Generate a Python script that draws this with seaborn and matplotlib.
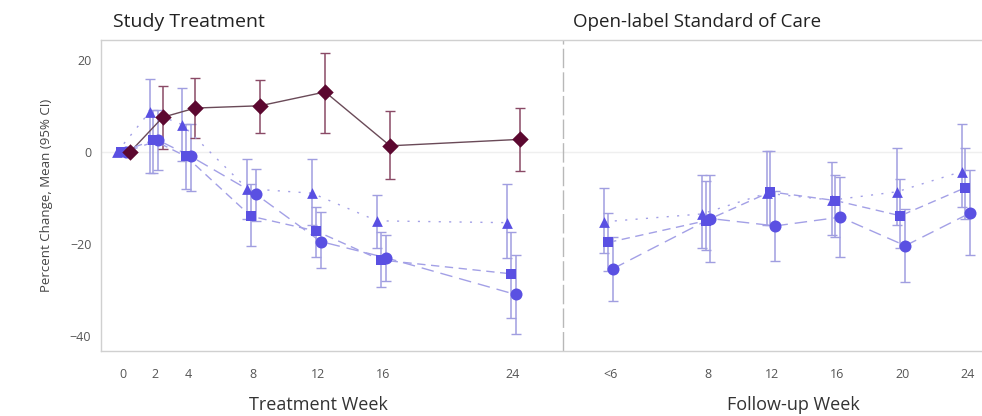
import numpy as np
import pandas as pd
import matplotlib
matplotlib.use("Agg")
import matplotlib.pyplot as plt
import seaborn as sns

# ── Data ─────────────────────────────────────────────────────────────────────
treat_weeks = [0, 2, 4, 8, 12, 16, 24]
fu_labels   = ['<6', '8', '12', '16', '20', '24']
fu_pos      = [30, 36, 40, 44, 48, 52]   # follow-up weeks placed after the treatment block

# diamond arm (study treatment only)
dia_mean = [0, 7.5, 9.5, 10.0, 13.0, 1.3, 2.7]
dia_lo   = [np.nan, 0.5, 3.0, 4.1, 4.0, -6.0, -4.2]
dia_hi   = [np.nan, 14.3, 16.0, 15.7, 21.5, 8.8, 9.6]

# triangle arm
tri_mean    = [0, 8.7, 5.9, -8.0, -9.0, -15.0, -15.4]
tri_lo      = [np.nan, -4.6, -2.0, -14.5, -16.0, -21.0, -23.0]
tri_hi      = [np.nan, 15.9, 13.9, -1.6, -1.5, -9.4, -7.0]
tri_fu_mean = [-15.2, -13.5, -9.0, -10.5, -8.7, -4.3]
tri_fu_lo   = [-22.0, -21.0, -16.0, -18.0, -16.0, -12.0]
tri_fu_hi   = [-7.9, -5.0, 0.2, -2.2, 0.9, 6.1]

# square arm
sq_mean    = [0, 2.5, -1.0, -14.0, -17.2, -23.5, -26.5]
sq_lo      = [np.nan, -4.5, -8.0, -20.5, -22.8, -29.3, -36.0]
sq_hi      = [np.nan, 9.0, 6.0, -7.0, -12.0, -17.4, -17.4]
sq_fu_mean = [-19.7, -15.0, -8.7, -10.6, -13.9, -7.8]
sq_fu_lo   = [-26.0, -21.3, -16.0, -18.5, -21.0, -14.5]
sq_fu_hi   = [-13.2, -6.3, 0.2, -5.0, -6.0, 0.9]

# circle arm
ci_mean    = [0, 2.5, -1.0, -9.2, -19.5, -23.0, -31.0]
ci_lo      = [np.nan, -4.0, -8.5, -15.0, -25.3, -28.0, -39.6]
ci_hi      = [np.nan, 9.0, 6.0, -3.7, -13.0, -18.0, -22.4]
ci_fu_mean = [-25.4, -14.5, -16.1, -14.2, -20.4, -13.3]
ci_fu_lo   = [-32.4, -23.9, -23.7, -22.8, -28.2, -22.4]
ci_fu_hi   = [-18.5, -5.0, -8.5, -5.5, -12.5, -4.0]

# ── Build long table ─────────────────────────────────────────────────────────
rows = []
def add(arm, period, xs, m, lo, hi):
    for x, a, b, c in zip(xs, m, lo, hi):
        rows.append(dict(arm=arm, period=period, x=x, mean=a, lo=b, hi=c))

add('dia', 'treat', treat_weeks, dia_mean, dia_lo, dia_hi)
add('tri', 'treat', treat_weeks, tri_mean, tri_lo, tri_hi)
add('tri', 'fu', fu_pos, tri_fu_mean, tri_fu_lo, tri_fu_hi)
add('sq', 'treat', treat_weeks, sq_mean, sq_lo, sq_hi)
add('sq', 'fu', fu_pos, sq_fu_mean, sq_fu_lo, sq_fu_hi)
add('ci', 'treat', treat_weeks, ci_mean, ci_lo, ci_hi)
add('ci', 'fu', fu_pos, ci_fu_mean, ci_fu_lo, ci_fu_hi)
df = pd.DataFrame(rows)

# small horizontal jitter so the arms don't sit on top of each other
offset = {'tri': -0.35, 'sq': -0.12, 'ci': 0.18, 'dia': 0.45}
df['pos'] = df['x'] + df['arm'].map(offset)
df['unit'] = df['arm'] + '_' + df['period']

BLUE   = '#5a50e2'
LAV    = '#a3a0e6'
MAROON = '#5c0830'

line_pal   = {'dia': '#6a4a58', 'tri': LAV, 'sq': LAV, 'ci': LAV}
marker_pal = {'dia': MAROON, 'tri': BLUE, 'sq': BLUE, 'ci': BLUE}
ebar_col   = {'dia': '#8a4a66', 'tri': '#a09ee0', 'sq': '#a09ee0', 'ci': '#a09ee0'}
markers    = {'dia': 'D', 'tri': '^', 'sq': 's', 'ci': 'o'}
dashes     = {'dia': '', 'tri': (1.5, 6), 'sq': (6, 4), 'ci': (9, 5)}
msize      = {'dia': 70, 'tri': 60, 'sq': 55, 'ci': 75}

# ── Plot ─────────────────────────────────────────────────────────────────────
sns.set_style('white')
plt.rcParams['font.family'] = ['Open Sans', 'DejaVu Sans']

fig = plt.figure(figsize=(9.82, 4.16), dpi=100)
ax = fig.add_axes([0.1029, 0.156, 0.897, 0.748])

ax.axhline(0, color='#efefef', lw=1, zorder=0)
ax.axvline(27.1, color='#b8b8b8', lw=1, dashes=(14, 3), zorder=0)

for arm in ['tri', 'sq', 'ci', 'dia']:
    d = df[df['arm'] == arm].dropna(subset=['lo'])
    ax.errorbar(d['pos'], d['mean'], yerr=[d['mean'] - d['lo'], d['hi'] - d['mean']],
                fmt='none', ecolor=ebar_col[arm], elinewidth=1.1, capsize=3.5,
                capthick=1.0, zorder=2)

sns.lineplot(data=df, x='pos', y='mean', hue='arm', style='arm', units='unit',
             estimator=None, palette=line_pal, dashes=dashes, lw=1.0,
             legend=False, ax=ax, zorder=3)

for arm in ['tri', 'sq', 'ci', 'dia']:
    d = df[df['arm'] == arm]
    sns.scatterplot(data=d, x='pos', y='mean', color=marker_pal[arm],
                    marker=markers[arm], s=msize[arm], linewidth=0,
                    legend=False, ax=ax, zorder=4)

ax.set_xlim(-1.35, 52.9)
ax.set_ylim(-43.3, 24.3)
ax.set_xticks(treat_weeks + fu_pos)
ax.set_xticklabels([str(w) for w in treat_weeks] + fu_labels)
ax.set_yticks([-40, -20, 0, 20])
ax.tick_params(axis='both', which='both', length=4, width=0.8, color='#c8c8c8',
               labelcolor='#555555', labelsize=9, direction='out')
ax.tick_params(axis='x', pad=8)
ax.tick_params(axis='y', pad=3)
ax.set_xlabel('')
ax.set_ylabel('Percent Change, Mean (95% CI)', fontsize=9.5, color='#444444', labelpad=12)

for side in ['left', 'bottom', 'top']:
    ax.spines[side].set_color('#d0d0d0')
    ax.spines[side].set_linewidth(1.0)
ax.spines['right'].set_visible(False)

fig.text(0.115, 0.947, 'Study Treatment', fontsize=14, color='#222222', va='center')
fig.text(0.583, 0.947, 'Open-label Standard of Care', fontsize=13.5, color='#222222', va='center')
fig.text(0.324, 0.026, 'Treatment Week', fontsize=13, color='#333333', ha='center', va='center')
fig.text(0.808, 0.026, 'Follow-up Week', fontsize=13, color='#333333', ha='center', va='center')

fig.savefig('out.png', dpi=100)
